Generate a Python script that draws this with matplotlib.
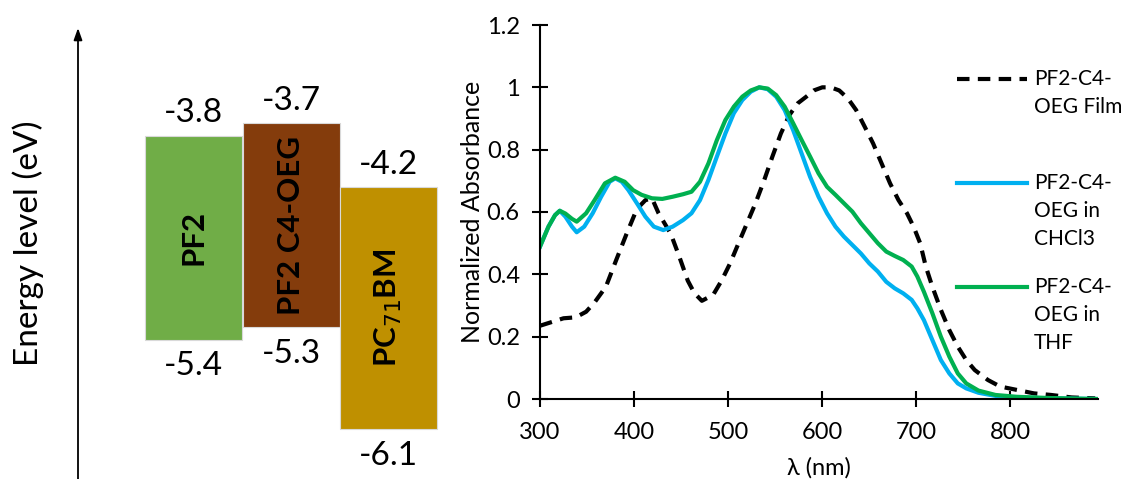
import matplotlib
matplotlib.use("Agg")
import matplotlib.pyplot as plt
from matplotlib.lines import Line2D
from matplotlib.patches import Rectangle

plt.rcParams['font.family'] = ['Lato', 'DejaVu Sans']

# ---------------- data ----------------
materials = ["PF2", "PF2 C4-OEG", r"PC$_{71}$BM"]
lumo = [-3.8, -3.7, -4.2]
homo = [-5.4, -5.3, -6.1]
box_colors = ["#70AD47", "#843C0C", "#BF9000"]

film_wl = [300, 325, 338, 349, 358, 370, 381, 392, 403, 412, 419, 426, 439, 448, 457, 464, 472,
           484, 493, 502, 511, 520, 529, 538, 547, 556, 565, 574, 583, 591, 600, 609, 618, 627,
           636, 645, 654, 663, 672, 681, 690, 697, 704, 710, 717, 726, 735, 744, 753, 762, 776,
           789, 807, 825, 843, 865, 890]
film_abs = [0.235, 0.259, 0.262, 0.28, 0.31, 0.36, 0.446, 0.53, 0.61, 0.638, 0.644, 0.596, 0.53,
            0.457, 0.38, 0.34, 0.315, 0.334, 0.38, 0.435, 0.5, 0.564, 0.628, 0.70, 0.778, 0.852,
            0.911, 0.949, 0.97, 0.99, 1.0, 1.0, 0.99, 0.965, 0.927, 0.874, 0.82, 0.756, 0.692,
            0.638, 0.596, 0.553, 0.50, 0.425, 0.36, 0.286, 0.221, 0.168, 0.125, 0.093, 0.061,
            0.04, 0.029, 0.018, 0.013, 0.005, 0.002]

chcl3_wl = [300, 309, 316, 321, 327, 334, 339, 347, 356, 365, 374, 380, 387, 394, 403, 412, 421,
            431, 441, 452, 461, 470, 479, 488, 497, 506, 515, 524, 533, 542, 551, 560, 569, 578,
            587, 596, 605, 614, 623, 632, 641, 650, 659, 668, 677, 686, 695, 701, 708, 717, 726,
            735, 744, 753, 766, 784, 807, 843, 892]
chcl3_abs = [0.489, 0.553, 0.59, 0.604, 0.585, 0.553, 0.535, 0.553, 0.596, 0.649, 0.697, 0.708,
             0.697, 0.67, 0.628, 0.585, 0.553, 0.542, 0.553, 0.574, 0.596, 0.638, 0.703, 0.778,
             0.852, 0.917, 0.959, 0.986, 1.0, 0.994, 0.97, 0.927, 0.863, 0.788, 0.713, 0.649,
             0.596, 0.553, 0.521, 0.494, 0.467, 0.435, 0.409, 0.376, 0.355, 0.339, 0.318, 0.291,
             0.253, 0.189, 0.125, 0.082, 0.05, 0.034, 0.02, 0.01, 0.005, 0.002, 0.0]

thf_wl = [300, 309, 316, 321, 327, 334, 339, 349, 358, 369, 380, 390, 399, 408, 419, 430, 441,
          452, 461, 470, 479, 488, 497, 506, 515, 524, 533, 542, 551, 560, 569, 578, 587, 596,
          605, 614, 623, 632, 641, 650, 659, 668, 677, 686, 695, 701, 708, 717, 726, 735, 744,
          753, 766, 784, 807, 843, 892]
thf_abs = [0.489, 0.553, 0.59, 0.604, 0.595, 0.578, 0.569, 0.596, 0.638, 0.692, 0.71, 0.697,
           0.67, 0.655, 0.644, 0.642, 0.649, 0.657, 0.665, 0.697, 0.756, 0.831, 0.895, 0.938,
           0.97, 0.99, 1.0, 0.996, 0.975, 0.938, 0.885, 0.831, 0.778, 0.724, 0.681, 0.655,
           0.628, 0.601, 0.564, 0.532, 0.5, 0.473, 0.459, 0.446, 0.425, 0.393, 0.344, 0.275,
           0.2, 0.136, 0.082, 0.05, 0.027, 0.013, 0.007, 0.003, 0.0]

legend_labels = ["PF2-C4-\nOEG Film", "PF2-C4-\nOEG in\nCHCl3", "PF2-C4-\nOEG in\nTHF"]
xticks = [300, 400, 500, 600, 700, 800]
yticks = [0, 0.2, 0.4, 0.6, 0.8, 1.0, 1.2]
ytick_labels = ["0", "0.2", "0.4", "0.6", "0.8", "1", "1.2"]

# ---------------- figure ----------------
W, H = 1123, 479
fig = plt.figure(figsize=(W / 100, H / 100), dpi=100)

def fx(px):
    return px / W

def fy(py):
    return 1 - py / H

# ---------- left: energy diagram ----------
axl = fig.add_axes([0, 0, fx(460), 1])
axl.set_xlim(0, 460)
axl.set_ylim(-6.488, -2.7375)
axl.axis("off")

box_x = [145, 243, 340]
box_w = 97
for i, (name, lu, ho, c) in enumerate(zip(materials, lumo, homo, box_colors)):
    axl.add_patch(Rectangle((box_x[i], ho), box_w, lu - ho, facecolor=c,
                            edgecolor="#d9d9d9", linewidth=0.8))
    xc = box_x[i] + box_w / 2
    axl.annotate(f"{lu:.1f}", xy=(xc, lu), xytext=(0, 16), textcoords="offset points",
                 ha="center", va="center", fontsize=24)
    axl.annotate(f"{ho:.1f}", xy=(xc, ho), xytext=(0, -19), textcoords="offset points",
                 ha="center", va="center", fontsize=24)
    axl.text(xc, (lu + ho) / 2, name, rotation=90, ha="center", va="center",
             fontsize=22.5, fontweight="bold", color="black")

axl.annotate("", xy=(78, 1 - 28 / H), xytext=(78, 0), xycoords=("data", "axes fraction"),
             textcoords=("data", "axes fraction"),
             arrowprops=dict(arrowstyle="-|>,head_length=0.7,head_width=0.25",
                             color="black", lw=1.3, shrinkA=0, shrinkB=0))
fig.text(fx(28), fy(243), "Energy level (eV)", rotation=90, ha="center", va="center",
         fontsize=24)

# ---------- right: absorbance ----------
ax = fig.add_axes([fx(540), fy(399), fx(1098) - fx(540), fy(25) - fy(399)])
ax.plot(film_wl, film_abs, color="black", lw=3, linestyle=(0, (3, 2)))
ax.plot(chcl3_wl, chcl3_abs, color="#00B0F0", lw=3)
ax.plot(thf_wl, thf_abs, color="#00B050", lw=3)
ax.set_xlim(300, 893)
ax.set_ylim(0, 1.2)
ax.set_xticks(xticks)
ax.set_yticks(yticks)
ax.set_yticklabels(ytick_labels)
for s in ["top", "right"]:
    ax.spines[s].set_visible(False)
for s in ["left", "bottom"]:
    ax.spines[s].set_linewidth(1.5)
ax.tick_params(direction="inout", length=11, width=1.5, labelsize=17)
ax.tick_params(axis="x", pad=11)
ax.tick_params(axis="y", pad=9)
ax.set_xlabel("λ (nm)", fontsize=17, labelpad=10)
ax.set_ylabel("Normalized Absorbance", fontsize=18, labelpad=2)

# legend drawn manually
leg_colors = ["black", "#00B0F0", "#00B050"]
leg_styles = [(0, (3, 2)), "-", "-"]
leg_y = [79, 183, 287]
line_step = 28
for lab, c, ls, y in zip(legend_labels, leg_colors, leg_styles, leg_y):
    fig.add_artist(Line2D([fx(957), fx(1027)], [fy(y), fy(y)], color=c, lw=3, linestyle=ls))
    for k, part in enumerate(lab.split("\n")):
        fig.text(fx(1034), fy(y + k * line_step), part, ha="left", va="center", fontsize=15)

fig.savefig("out.png", dpi=100)
